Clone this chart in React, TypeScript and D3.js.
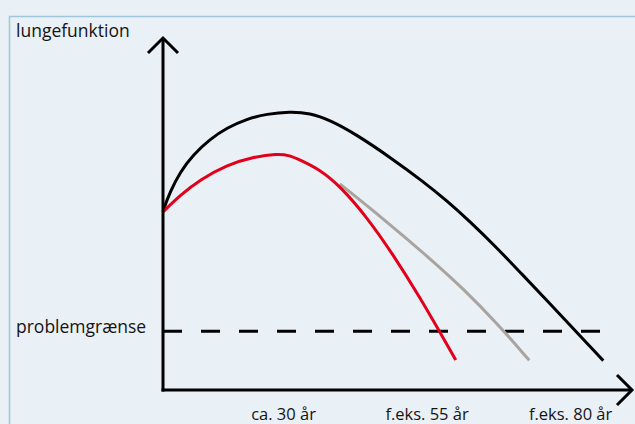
import React, { useEffect, useRef } from 'react';
import * as d3 from 'd3';

// age (år) and lung function (relative)
const healthyAge = [9, 10.2, 12, 14.2, 17.2, 20.1, 23.6, 27.1, 31.1, 34.6, 38.1, 42.8, 48.5, 54.3, 58.5, 62.5, 67.2, 71.5, 75.9, 80.4, 85.7];
const healthyVal = [63.9, 70.7, 77.9, 83.9, 89.6, 93.6, 96.8, 98.6, 99.4, 98.9, 96.4, 91.1, 83.2, 74.5, 67.5, 60.1, 50.7, 41.4, 32, 22, 10.5];

const smokerAge = [9, 12, 15.4, 20.1, 24.7, 28.9, 31.1, 32.9, 36.4, 39.8, 44.5, 49.1, 53.8, 57.3, 60];
const smokerVal = [63.6, 69.6, 75, 80.4, 83.2, 84.4, 83.8, 82.1, 78.6, 72.9, 61.8, 48.3, 32.9, 20.4, 10.7];

const quitAge = [39.8, 47.3, 55.5, 61.3, 67.2, 72.8];
const quitVal = [73.6, 61.3, 47, 36.2, 23.8, 10.6];

const thresholdVal = 21;
const tickAges = [30, 55, 80];
const tickLabels = ['ca. 30 år', 'f.eks. 55 år', 'f.eks. 80 år'];

const W = 635;
const H = 424;
const FONT = '"Open Sans", sans-serif';

const App: React.FC = () => {
  const svgRef = useRef<SVGSVGElement>(null);

  useEffect(() => {
    document.body.style.margin = '0';
    if (!svgRef.current) return;
    const svg = d3.select(svgRef.current);
    svg.selectAll('*').remove();

    const x0 = 163;
    const y0 = 390;

    const x = d3.scaleLinear().domain([9, 90]).range([x0, 628]);
    const y = d3.scaleLinear().domain([0, 100]).range([y0, 110]);

    svg.append('rect').attr('width', W).attr('height', H).attr('fill', '#e9f0f6');

    // panel border
    svg.append('path')
      .attr('d', `M9.5,${H} V16.5 H${W}`)
      .attr('fill', 'none')
      .attr('stroke', '#9fc6dc')
      .attr('stroke-width', 1.5);

    // smooth through the read-off points
    const line = d3.line<[number, number]>()
      .x(d => x(d[0]))
      .y(d => y(d[1]))
      .curve(d3.curveBasis);

    // threshold
    svg.append('line')
      .attr('x1', x0).attr('x2', 613)
      .attr('y1', y(thresholdVal)).attr('y2', y(thresholdVal))
      .attr('stroke', '#000')
      .attr('stroke-width', 3)
      .attr('stroke-dasharray', '19 19');

    const series: [number[], number[], string][] = [
      [quitAge, quitVal, '#a9a49f'],
      [healthyAge, healthyVal, '#000'],
      [smokerAge, smokerVal, '#e2001a'],
    ];
    series.forEach(([a, v, c]) => {
      svg.append('path')
        .datum(a.map((d, i) => [d, v[i]] as [number, number]))
        .attr('d', line)
        .attr('fill', 'none')
        .attr('stroke', c)
        .attr('stroke-width', 3);
    });

    // axes with open arrowheads
    const axisG = svg.append('g')
      .attr('fill', 'none')
      .attr('stroke', '#000')
      .attr('stroke-width', 3);
    const yTop = 38;
    const xEnd = 632;
    axisG.append('path').attr('d', `M${x0},${y0 + 1.5} V${yTop}`);
    axisG.append('path').attr('d', `M${x0 - 1.5},${y0} H${xEnd}`);
    axisG.append('path').attr('d', `M${x0 - 15},${yTop + 15} L${x0},${yTop} L${x0 + 15},${yTop + 15}`);
    axisG.append('path').attr('d', `M${xEnd - 15},${y0 - 15} L${xEnd},${y0} L${xEnd - 15},${y0 + 15}`);

    const txt = svg.append('g')
      .style('font-family', FONT)
      .style('font-size', '17.5px')
      .attr('fill', '#161414');

    txt.append('text').attr('x', 16).attr('y', 37).text('lungefunktion');
    txt.append('text').attr('x', 16).attr('y', y(thresholdVal) + 1.5).text('problemgrænse');

    tickAges.forEach((a, i) => {
      txt.append('text')
        .attr('x', x(a))
        .attr('y', 420)
        .attr('text-anchor', 'middle')
        .style('font-size', '16.5px')
        .text(tickLabels[i]);
    });
  }, []);

  return (
    <svg
      ref={svgRef}
      width={W}
      height={H}
      style={{ display: 'block', position: 'absolute', left: 0, top: 0 }}
    />
  );
};

export default App;
